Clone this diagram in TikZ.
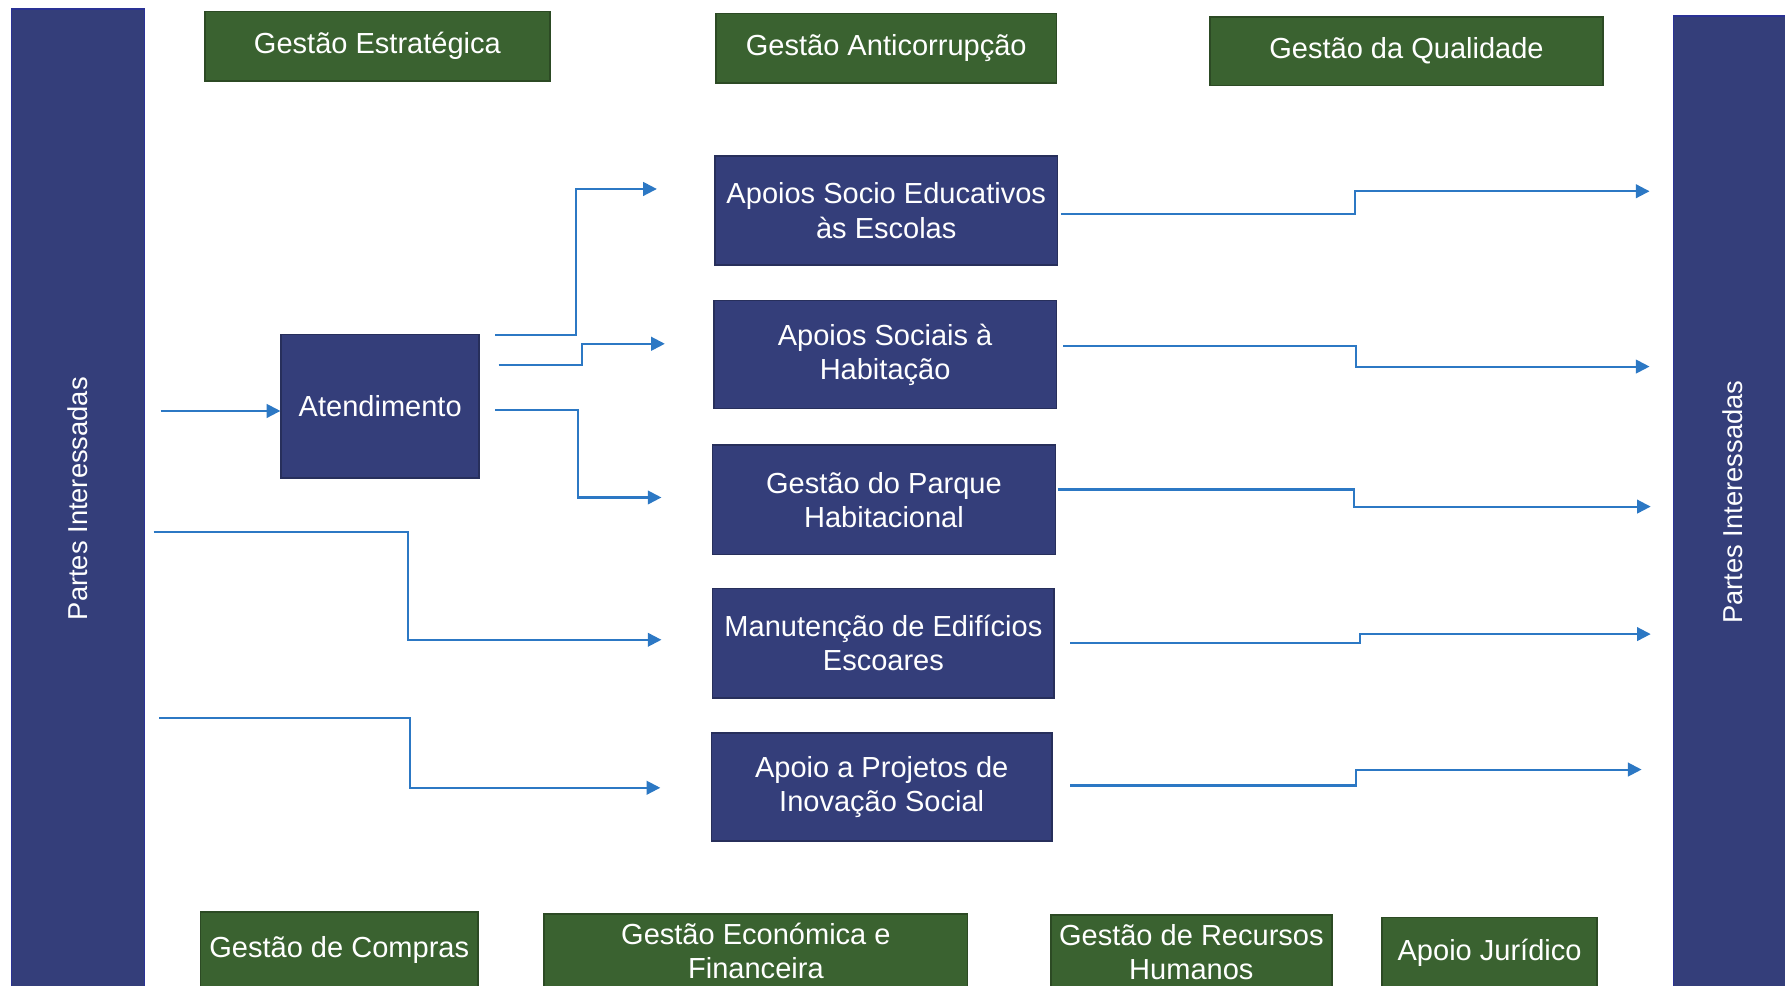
\documentclass[tikz,border=0pt]{standalone}
\usepackage{fontspec}
\setmainfont{Liberation Sans}
\usetikzlibrary{calc,arrows.meta}
\definecolor{boxblue}{RGB}{52,62,122}
\definecolor{boxgreen}{RGB}{58,98,48}
\definecolor{arrblue}{RGB}{44,120,196}
\begin{document}
\begin{tikzpicture}[x=0.5pt,y=-0.5pt,
  bluebox/.style={draw=boxblue!75!black, line width=0.7pt, fill=boxblue, text=white, inner sep=0pt, align=center, font=\fontsize{12.75}{15}\selectfont},
  greenbox/.style={draw=boxgreen!75!black, line width=0.7pt, fill=boxgreen, text=white, inner sep=0pt, align=center, font=\fontsize{12.75}{15}\selectfont},
  barbox/.style={draw=boxblue!80!blue, line width=0.7pt, fill=boxblue, inner sep=0pt, text=white, font=\fontsize{12}{14}\selectfont},
  arr/.style={draw=arrblue, line width=0.9pt, -{Triangle[length=6pt,width=6pt]}},
  elbow/.style={to path={-| ($(\tikztostart)!.5!(\tikztotarget)$) |- (\tikztotarget)}}]
\useasboundingbox (0,0) rectangle (1568,866);

% side bars
\node[barbox, minimum width=58.5pt, minimum height=430pt] (pl) at (68.5,438) {};
\node[barbox, draw=none, rotate=90] (plt) at (pl.center) {Partes Interessadas};
\node[barbox, minimum width=52.5pt, minimum height=427pt] (pr) at (1522.5,441) {};
\node[barbox, draw=none, rotate=90] (prt) at (pr.center) {Partes Interessadas};

% top support processes
\node[greenbox, minimum width=151.5pt, minimum height=30.5pt] (g1) at (331.5,40.5) {Gestão Estratégica};
\node[greenbox, minimum width=149.5pt, minimum height=30.5pt] (g2) at (778.5,42.5) {Gestão Anticorrupção};
\node[greenbox, minimum width=172.5pt, minimum height=30pt] (g3) at (1235.5,45) {Gestão da Qualidade};

% core processes
\node[bluebox, minimum width=87pt, minimum height=63pt] (at) at (334,357) {Atendimento};
\node[bluebox, minimum width=150.5pt, minimum height=48pt] (b1) at (778.5,185) {Apoios Socio Educativos\\às Escolas};
\node[bluebox, minimum width=150.5pt, minimum height=47.5pt] (b2) at (777.5,311.5) {Apoios Sociais à\\Habitação};
\node[bluebox, minimum width=150.5pt, minimum height=48pt] (b3) at (776.5,439) {Gestão do Parque\\Habitacional};
\node[bluebox, minimum width=150pt, minimum height=48pt] (b4) at (776,565) {Manutenção de Edifícios\\Escoares};
\node[bluebox, minimum width=149.5pt, minimum height=47.5pt] (b5) at (774.5,691.5) {Apoio a Projetos de\\Inovação Social};

% bottom support processes
\node[greenbox, minimum width=122pt, minimum height=33.5pt] (h1) at (298,834.5) {Gestão de Compras};
\node[greenbox, minimum width=186pt, minimum height=32.5pt] (h2) at (664,835.5) {Gestão Económica e\\Financeira};
\node[greenbox, minimum width=123.5pt, minimum height=32pt] (h3) at (1046.5,836) {Gestão de Recursos\\Humanos};
\node[greenbox, minimum width=94.5pt, minimum height=31pt] (h4) at (1308.5,837) {Apoio Jurídico};

% connector end points
\coordinate (i0) at (141,361);
\coordinate (i4) at (135,467);
\coordinate (i5) at (140,631);
\coordinate (a1) at (435,294);
\coordinate (a2) at (438,321);
\coordinate (a3) at (435,360);
\coordinate (e1) at (577,166);
\coordinate (e2) at (584,302);
\coordinate (e3) at (581,437);
\coordinate (e4) at (581,562);
\coordinate (e5) at (580,692);
\coordinate (r1) at (932,188);
\coordinate (r2) at (934,304);
\coordinate (r3) at (929,430);
\coordinate (r4) at (940,565);
\coordinate (r5) at (940,690);
\coordinate (f1) at (1449,168);
\coordinate (f2) at (1449,322);
\coordinate (f3) at (1450,445);
\coordinate (f4) at (1450,557);
\coordinate (f5) at (1442,676);

% connectors
\draw[arr] (i0) -- (i0 -| at.west);
\draw[arr] (a1) to[elbow] (e1);
\draw[arr] (a2) to[elbow] (e2);
\draw[arr] (a3) to[elbow] (e3);
\draw[arr] (i4) to[elbow] (e4);
\draw[arr] (i5) to[elbow] (e5);
\draw[arr] (r1) to[elbow] (f1);
\draw[arr] (r2) to[elbow] (f2);
\draw[arr] (r3) to[elbow] (f3);
\draw[arr] (r4) to[elbow] (f4);
\draw[arr] (r5) to[elbow] (f5);
\end{tikzpicture}
\end{document}
